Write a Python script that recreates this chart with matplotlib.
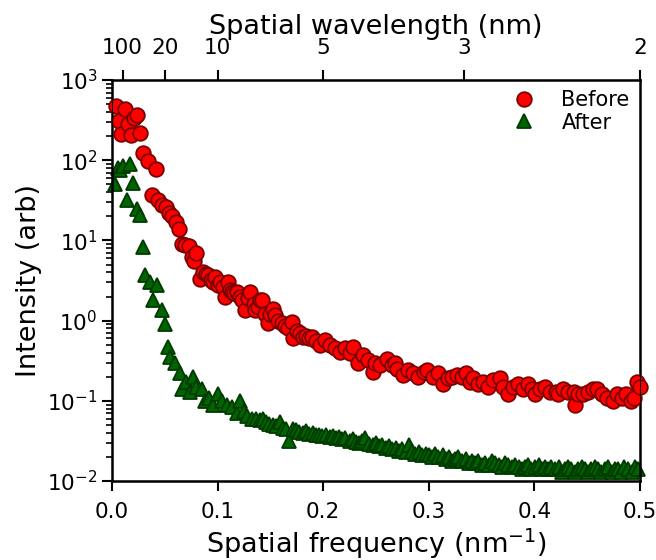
import matplotlib
matplotlib.use("Agg")
import matplotlib.pyplot as plt
import numpy as np

# Before: spatial frequency (1/nm) and intensity
freq_before = [0.004, 0.007, 0.009, 0.012, 0.015, 0.018, 0.021, 0.024, 0.027, 0.029,
               0.034, 0.038, 0.042, 0.044, 0.047, 0.051, 0.054, 0.057, 0.061, 0.063,
               0.066, 0.069, 0.073, 0.076, 0.078, 0.080, 0.083, 0.086, 0.089, 0.091,
               0.094, 0.096, 0.098, 0.100, 0.102, 0.105, 0.107, 0.110, 0.112, 0.114,
               0.116, 0.118, 0.121, 0.123, 0.126, 0.129, 0.131, 0.134, 0.135, 0.138,
               0.140, 0.142, 0.145, 0.148, 0.150, 0.152, 0.154, 0.157, 0.161, 0.164,
               0.167, 0.170, 0.171, 0.175, 0.178, 0.181, 0.184, 0.187, 0.189, 0.193,
               0.197, 0.202, 0.206, 0.211, 0.216, 0.221, 0.225, 0.228, 0.233, 0.238,
               0.242, 0.247, 0.249, 0.254, 0.260, 0.265, 0.268, 0.270, 0.276, 0.280,
               0.285, 0.290, 0.295, 0.298, 0.304, 0.309, 0.313, 0.318, 0.322, 0.327,
               0.331, 0.335, 0.339, 0.342, 0.347, 0.351, 0.356, 0.361, 0.367, 0.370,
               0.375, 0.380, 0.384, 0.389, 0.394, 0.398, 0.401, 0.405, 0.410, 0.415,
               0.420, 0.422, 0.427, 0.432, 0.437, 0.438, 0.441, 0.446, 0.451, 0.455,
               0.459, 0.464, 0.469, 0.474, 0.478, 0.483, 0.487, 0.491, 0.494, 0.497,
               0.500]
int_before = [470, 310, 210, 430, 280, 205, 340, 370, 220, 125,
              97, 37, 78, 32, 28, 26, 22, 20, 17, 14,
              9, 8.8, 8.6, 6.2, 5.5, 6.9, 3.3, 4.1, 3.8, 3.7,
              3.2, 3.0, 3.5, 2.8, 3.0, 2.6, 1.95, 3.0, 2.4, 2.3,
              2.2, 2.3, 2.0, 1.8, 1.35, 1.9, 2.3, 1.6, 1.35, 1.5,
              1.8, 1.8, 1.2, 0.93, 1.2, 1.4, 1.17, 1.0, 0.93, 0.85,
              0.8, 0.96, 0.6, 0.75, 0.7, 0.62, 0.65, 0.6, 0.62, 0.55,
              0.5, 0.57, 0.5, 0.45, 0.41, 0.45, 0.4, 0.47, 0.3, 0.37,
              0.32, 0.23, 0.3, 0.28, 0.33, 0.28, 0.3, 0.25, 0.21, 0.24,
              0.22, 0.2, 0.23, 0.24, 0.2, 0.22, 0.16, 0.19, 0.2, 0.21,
              0.2, 0.22, 0.17, 0.19, 0.16, 0.17, 0.15, 0.18, 0.19, 0.15,
              0.12, 0.15, 0.16, 0.14, 0.16, 0.14, 0.12, 0.14, 0.15, 0.13,
              0.13, 0.12, 0.14, 0.13, 0.13, 0.09, 0.12, 0.12, 0.13, 0.14,
              0.14, 0.12, 0.11, 0.1, 0.12, 0.11, 0.12, 0.1, 0.11, 0.17,
              0.15]

# After
freq_after = [0.003, 0.006, 0.008, 0.010, 0.014, 0.017, 0.020, 0.024, 0.027, 0.029,
              0.031, 0.036, 0.039, 0.043, 0.047, 0.050, 0.053, 0.055, 0.060, 0.064,
              0.066, 0.070, 0.074, 0.077, 0.080, 0.085, 0.088, 0.092, 0.096, 0.100,
              0.104, 0.109, 0.114, 0.118, 0.121, 0.125, 0.128, 0.133, 0.136,
              0.140, 0.143, 0.146, 0.149, 0.152, 0.155, 0.159, 0.162, 0.165, 0.168,
              0.171, 0.174, 0.177, 0.181, 0.184, 0.187, 0.190, 0.193, 0.196, 0.199,
              0.203, 0.206, 0.209, 0.212, 0.215, 0.218, 0.221, 0.225, 0.228, 0.231,
              0.234, 0.237, 0.240, 0.243, 0.247, 0.250, 0.253, 0.256, 0.259, 0.262,
              0.265, 0.269, 0.272, 0.275, 0.278, 0.281, 0.284, 0.287, 0.291, 0.294,
              0.297, 0.300, 0.303, 0.306, 0.309, 0.313, 0.316, 0.319, 0.322, 0.325,
              0.328, 0.331, 0.335, 0.338, 0.341, 0.344, 0.347, 0.350, 0.353, 0.357,
              0.360, 0.363, 0.366, 0.369, 0.372, 0.375, 0.379, 0.382, 0.385, 0.388,
              0.391, 0.394, 0.397, 0.401, 0.404, 0.407, 0.410, 0.413, 0.416, 0.419,
              0.423, 0.426, 0.429, 0.432, 0.435, 0.438, 0.441, 0.445, 0.448, 0.451,
              0.454, 0.457, 0.460, 0.463, 0.467, 0.470, 0.473, 0.476, 0.479, 0.482,
              0.485, 0.489, 0.492, 0.495, 0.498]
int_after = [50, 80, 75, 85, 32, 90, 52, 25, 21, 8.3,
             3.7, 3.0, 1.8, 2.8, 1.35, 0.9, 0.47, 0.35, 0.3, 0.22,
             0.14, 0.17, 0.13, 0.2, 0.15, 0.14, 0.10, 0.11, 0.09, 0.12,
             0.1, 0.09, 0.085, 0.07, 0.1, 0.075, 0.065, 0.06, 0.06,
             0.058, 0.060, 0.054, 0.052, 0.05, 0.048, 0.055, 0.046, 0.044, 0.032,
             0.045, 0.043, 0.041, 0.04, 0.042, 0.039, 0.04, 0.037, 0.038, 0.036,
             0.037, 0.035, 0.036, 0.034, 0.035, 0.033, 0.034, 0.032, 0.033, 0.031,
             0.03, 0.032, 0.034, 0.029, 0.028, 0.03, 0.027, 0.028, 0.026, 0.027,
             0.025, 0.026, 0.024, 0.025, 0.023, 0.028, 0.024, 0.022, 0.023, 0.021,
             0.022, 0.021, 0.02, 0.022, 0.02, 0.021, 0.019, 0.02, 0.018, 0.019,
             0.02, 0.018, 0.019, 0.017, 0.018, 0.017, 0.018, 0.016, 0.017, 0.016,
             0.018, 0.017, 0.016, 0.015, 0.017, 0.016, 0.015, 0.016, 0.015, 0.014,
             0.015, 0.016, 0.014, 0.015, 0.016, 0.014, 0.015, 0.014, 0.015, 0.014,
             0.015, 0.013, 0.014, 0.015, 0.014, 0.013, 0.014, 0.015, 0.014, 0.013,
             0.014, 0.015, 0.014, 0.013, 0.014, 0.015, 0.013, 0.014, 0.014, 0.013,
             0.015, 0.014, 0.013, 0.015, 0.014]

wavelength_ticks = [100, 20, 10, 5, 3, 2]

fig = plt.figure(figsize=(6.56, 5.6), dpi=100)
ax = fig.add_axes([0.1707, 0.141, 0.805, 0.716])

ax.plot(freq_before, int_before, 'o', ms=10.5, mfc='red', mec='#7a0000', mew=1.3,
        label='Before', clip_on=False, zorder=3)
ax.plot(freq_after, int_after, '^', ms=10.5, mfc='#006400', mec='#003a00', mew=1.3,
        label='After', clip_on=False, zorder=2)

ax.set_yscale('log')
ax.set_xlim(0, 0.5)
ax.set_ylim(1e-2, 1e3)
ax.set_xticks([0.0, 0.1, 0.2, 0.3, 0.4, 0.5])
ax.set_xlabel('Spatial frequency (nm$^{-1}$)', fontsize=19.5, labelpad=3)
ax.set_ylabel('Intensity (arb)', fontsize=19.5)
ax.tick_params(which='major', labelsize=15.5, length=7, width=1.5, direction='out')
ax.tick_params(axis='x', which='major', pad=8)
ax.tick_params(which='minor', length=4, width=1.2, direction='out')
for s in ax.spines.values():
    s.set_linewidth(1.8)

ax2 = ax.twiny()
ax2.set_xlim(ax.get_xlim())
ax2.set_xticks([1.0 / w for w in wavelength_ticks])
ax2.set_xticklabels([str(w) for w in wavelength_ticks])
ax2.tick_params(labelsize=15.5, length=7, width=1.5, direction='out', pad=9)
ax2.set_xlabel('Spatial wavelength (nm)', fontsize=19.5, labelpad=3)

ax.legend(loc='upper right', frameon=False, fontsize=15, handletextpad=0.8,
          borderaxespad=0.1, labelspacing=0.1)

fig.savefig('out.png', dpi=100)
